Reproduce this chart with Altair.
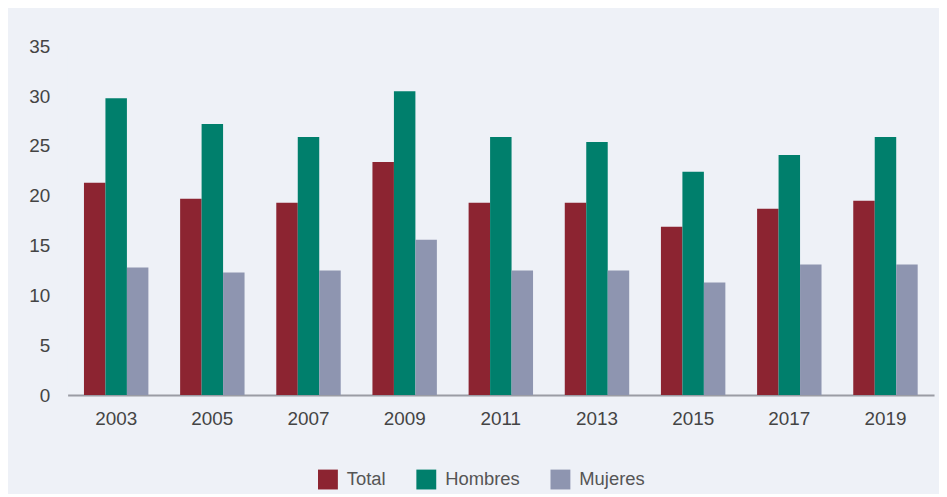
import altair as alt
import pandas as pd

years = ["2003", "2005", "2007", "2009", "2011", "2013", "2015", "2017", "2019"]
total = [21.3, 19.7, 19.3, 23.4, 19.3, 19.3, 16.9, 18.7, 19.5]
hombres = [29.8, 27.2, 25.9, 30.5, 25.9, 25.4, 22.4, 24.1, 25.9]
mujeres = [12.8, 12.3, 12.5, 15.6, 12.5, 12.5, 11.3, 13.1, 13.1]
series = ["Total", "Hombres", "Mujeres"]
colors = ["#8c2431", "#007f6c", "#8e95b0"]

rows = []
for i, y in enumerate(years):
    for s, vals in zip(series, [total, hombres, mujeres]):
        rows.append({"year": y, "serie": s, "valor": vals[i]})
df = pd.DataFrame(rows)

chart = alt.Chart(df).mark_bar().encode(
    x=alt.X("year:N", sort=years, title=None,
            scale=alt.Scale(paddingInner=0.33, paddingOuter=0.17),
            axis=alt.Axis(labelAngle=0, ticks=False, labelPadding=15,
                          domainColor="#9a9ca4", domainWidth=2)),
    xOffset=alt.XOffset("serie:N", sort=series),
    y=alt.Y("valor:Q", title=None,
            scale=alt.Scale(domain=[0, 35], nice=False),
            axis=alt.Axis(values=[0, 5, 10, 15, 20, 25, 30, 35], grid=False,
                          domain=False, ticks=False, labelPadding=18)),
    color=alt.Color("serie:N", sort=series,
                    scale=alt.Scale(domain=series, range=colors),
                    legend=alt.Legend(title=None, orient="none", direction="horizontal",
                                      legendX=252, legendY=426, symbolType="square",
                                      symbolSize=400, symbolStrokeWidth=0,
                                      labelFontSize=18.5, labelColor="#555555",
                                      labelOffset=9, columnPadding=30,
                                      labelFont="Liberation Sans")),
).properties(
    width=872, height=351,
    padding={"left": 60, "top": 37, "right": 5, "bottom": 98},
    autosize=alt.AutoSizeParams(type="none"),
    background="#eef1f7",
).configure_view(
    stroke=None, fill="#eef1f7"
).configure_axis(
    labelFont="Liberation Sans", labelFontSize=19, labelColor="#444444"
)

chart.save("out.html", embed_options={"renderer": "svg", "actions": False})
